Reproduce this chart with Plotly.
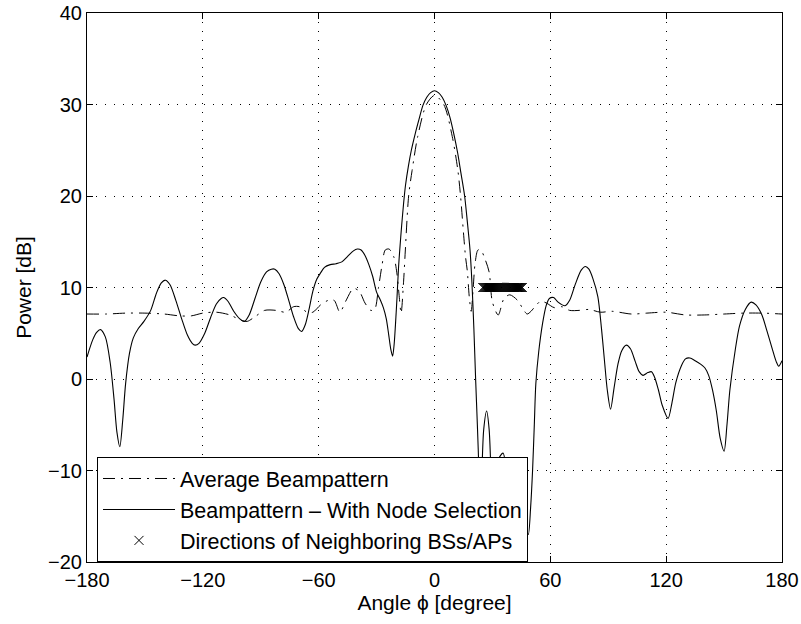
import plotly.graph_objects as go

# ---- data ----
sel_angle = [-180, -177, -175, -173, -170.5, -168, -166, -164.5, -163, -161.5, -160, -158, -156, -153.5,
             -150.5, -147, -144, -141.5, -139.4, -137, -134, -131, -128, -125.5, -124, -122, -119, -116,
             -113, -110.5, -109.3, -107, -104, -101, -98.5, -96, -93, -90, -87, -84.5, -82.7, -80.5, -78,
             -75.5, -73, -70.5, -68.8, -67, -65, -63, -61, -59, -57, -54, -51, -48, -45, -42, -40, -38,
             -36, -34, -32, -30, -28, -26.5, -25, -23.7, -22.6, -21.7, -20.9, -20.2, -19.4, -18.6, -18,
             -17, -16, -15, -13.5, -12, -10, -8, -6, -4, -2, 0, 2, 4, 6, 8, 10, 12, 13.7, 15.6, 17, 18.4,
             19.4, 20.4, 21.3, 22.2, 23, 23.8, 24.6, 25.5, 27, 28.3, 29.2, 30.2, 31.5, 33, 35.5, 37.3,
             38.5, 40, 42, 44, 46, 48.6, 49.8, 50.8, 51.7, 52.5, 54, 56, 57.8, 59.5, 61.7, 64, 67.6, 70,
             73, 76, 78.2, 80, 82, 84.6, 86.5, 88, 89.5, 91.2, 93, 95, 97, 99.4, 101.5, 104, 106, 108,
             110.5, 112.4, 114, 116, 118, 121, 123, 125, 128, 130, 132.3, 135, 138, 140.1, 142, 144, 146,
             148, 150, 151.5, 153, 155.8, 158, 161, 164, 166.5, 169.6, 172, 174.8, 177, 178.3, 180]
sel_power = [2.4, 4.3, 5.1, 5.4, 4.6, 1.8, -2.2, -5.8, -7.4, -4.5, -0.5, 2.8, 4.5, 5.5,
             6.3, 7.5, 9.4, 10.5, 10.8, 10.3, 8.6, 6.6, 4.8, 3.9, 3.7, 3.9, 5.0, 6.7,
             8.2, 8.8, 8.9, 8.5, 7.4, 6.6, 6.3, 7.0, 8.8, 10.6, 11.7, 12.0, 12.0, 11.5, 10.3,
             8.6, 6.8, 5.5, 5.2, 5.9, 7.6, 9.6, 10.9, 11.6, 12.2, 12.5, 12.6, 12.8, 13.4, 14.0, 14.2, 14.1,
             13.5, 12.5, 11.2, 9.5, 8.6, 7.8, 6.6, 4.8, 3.2, 2.5, 3.8, 6.0, 9.0, 12.3, 14.1,
             16.8, 19.2, 21.2, 23.3, 25.0, 26.8, 28.4, 29.9, 30.8, 31.3, 31.5, 31.3, 30.8, 29.9, 28.6, 26.8, 24.7, 22.5, 20.0, 17.2, 14.1,
             10.5, 5.5, 0.0, -5.0, -10.0, -17.5, -10.0, -5.5, -3.5, -5.5, -10.0, -17.5, -11.5, -8.8, -8.1, -10.5,
             -17.5, -13.5, -12.0, -12.5, -14.5, -17.0, -14.0, -10.0, -5.0, -0.5, 3.0, 6.1, 8.0, 8.8, 8.9, 8.4, 8.0, 8.6,
             10.4, 11.9, 12.3, 12.0, 11.0, 9.0, 5.5, 2.1, -1.2, -3.3, -1.0, 1.6, 3.1, 3.7, 3.3, 1.9, 0.8, 0.4,
             0.7, 0.8, 0.2, -1.2, -2.9, -4.3, -2.6, -0.4, 1.5, 2.2, 2.3, 2.0, 1.6, 1.2, 0.4, -1.2, -3.5,
             -6.5, -7.9, -5.0, -1.2, 3.2, 5.8, 7.6, 8.4, 8.1, 7.0, 5.4, 3.4, 1.9, 1.4, 2.0]

avg_angle = [-180, -170, -160, -150, -140, -132, -126, -120, -113, -106, -100, -97, -93, -88, -82, -77,
             -73, -70, -66, -63, -59, -55, -52, -49, -46, -42, -39, -36, -33, -31, -29, -27.2, -25.5,
             -23.5, -21, -19.5, -18.4, -17.3, -16, -15.1, -13.4, -11.6, -8.7, -4.2, 0, 4.8, 9.2, 12.1,
             13.5, 15.0, 16.1, 17, 18, 19, 20, 21, 22.5, 24, 26, 28.3, 30, 33, 36, 39, 43, 46, 48, 50,
             52, 55, 58, 62, 66, 70, 75, 80, 86, 92, 102, 110, 120, 130, 140, 150, 160, 170, 180]
avg_power = [7.1, 7.1, 7.2, 7.2, 7.1, 6.9, 6.9, 7.2, 7.3, 7.0, 6.4, 6.3, 6.8, 7.5, 7.5, 7.3,
             7.9, 7.9, 7.3, 7.3, 8.1, 8.6, 8.6, 7.3, 8.5, 9.9, 9.6, 8.3, 7.5, 7.6, 10.0, 12.4, 14.1,
             14.2, 13.3, 11.6, 9.3, 7.2, 10.7, 14.1, 20.0, 22.8, 26.5, 30.0, 31.0, 30.0, 26.5, 22.8,
             20.0, 16.0, 13.3, 11.8, 9.0, 7.4, 9.8, 12.6, 14.1, 14.1, 13.2, 11.7, 8.4, 7.0, 8.8, 9.2, 8.6, 7.6, 7.1, 7.4,
             7.9, 8.5, 8.3, 7.8, 7.9, 7.5, 7.5, 7.6, 7.3, 7.4, 7.1, 7.2, 7.3, 7.0, 7.0, 7.1, 7.2, 7.2, 7.1]

nb_angle = [25, 25.5, 26, 26.5, 27, 27.5, 28, 28.5, 29, 29.5, 30, 30.5, 31, 31.5, 32, 32.5, 33, 33.5,
            34, 34.5, 35, 35.5, 36, 36.5, 37, 37.5, 38, 38.5, 39, 39.5, 40, 40.5, 41, 41.5, 42, 42.5,
            43, 43.5, 44, 44.5, 45, 45.5]
nb_power = [10] * len(nb_angle)

x_ticks = [-180, -120, -60, 0, 60, 120, 180]
y_ticks = [-20, -10, 0, 10, 20, 30, 40]

FONT = "Liberation Sans, Arial, Helvetica, sans-serif"

fig = go.Figure()
fig.add_trace(go.Scatter(x=avg_angle, y=avg_power, mode="lines", name="Average Beampattern",
                         line=dict(color="black", width=1, dash="12px,6px,2px,6px", shape="spline", smoothing=0.8)))
fig.add_trace(go.Scatter(x=sel_angle, y=sel_power, mode="lines", name="Beampattern \u2013 With Node Selection",
                         line=dict(color="black", width=1.1, shape="spline", smoothing=0.8)))
fig.add_trace(go.Scatter(x=nb_angle, y=nb_power, mode="markers", name="Directions of Neighboring BSs/APs",
                         marker=dict(symbol="x-thin-open", size=9, color="black", line=dict(color="black", width=1))))

axis_common = dict(showline=True, linecolor="black", linewidth=1, mirror="allticks", ticks="inside",
                   ticklen=6, tickcolor="black", showgrid=True, gridcolor="black", gridwidth=1,
                   griddash="1px,8px", zeroline=False, automargin=False,
                   tickfont=dict(family=FONT, size=20, color="black"))

fig.update_xaxes(range=[-180, 180], tickvals=x_ticks, title=dict(text="Angle \u03d5 [degree]", standoff=4,
                 font=dict(family=FONT, size=21, color="black")), **axis_common)
fig.update_yaxes(range=[-20, 40], tickvals=y_ticks, title=dict(text="Power [dB]", standoff=10,
                 font=dict(family=FONT, size=21, color="black")), **axis_common)

fig.update_layout(
    width=801, height=624,
    margin=dict(l=87, r=19, t=13, b=62),
    paper_bgcolor="white", plot_bgcolor="white",
    font=dict(family=FONT, size=20, color="black"),
    showlegend=True,
    legend=dict(x=0.0144, y=0.0956, xanchor="left", yanchor="middle", bgcolor="white",
                bordercolor="black", borderwidth=1, font=dict(family=FONT, size=21.5, color="black"),
                itemwidth=72, tracegroupgap=0),
)

fig.write_html("out.html", config={"displayModeBar": False},
               post_script="document.body.style.margin='0';document.body.style.overflow='hidden';")
